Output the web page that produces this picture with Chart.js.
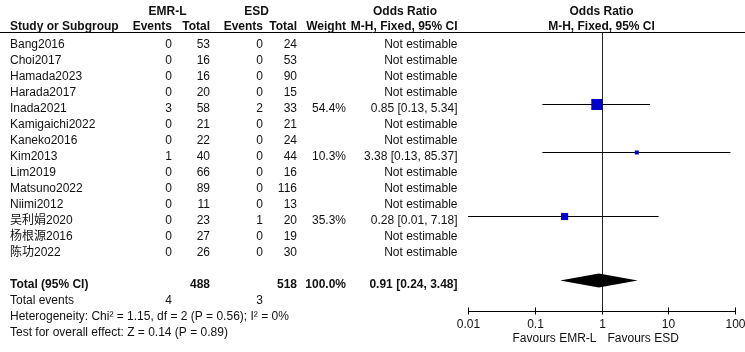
<!DOCTYPE html>
<html><head><meta charset="utf-8">
<script src="https://cdn.jsdelivr.net/npm/chart.js@4"></script>
<style>html,body{margin:0;padding:0;background:#fff}#wrap{width:745px;height:352px;position:relative}</style>
</head><body><div id="wrap"><canvas id="c" width="745" height="352"></canvas></div>
<script>
const studies = ['Bang2016','Choi2017','Hamada2023','Harada2017','Inada2021','Kamigaichi2022','Kaneko2016','Kim2013','Lim2019','Matsuno2022','Niimi2012','吴利娟2020','杨根源2016','陈功2022'];
const emrEvents = [0,0,0,0,3,0,0,1,0,0,0,0,0,0];
const emrTotal  = [53,16,16,20,58,21,22,40,66,89,11,23,27,26];
const esdEvents = [0,0,0,0,2,0,0,0,0,0,0,1,0,0];
const esdTotal  = [24,53,90,15,33,21,24,44,16,116,13,20,19,30];
const weights   = [null,null,null,null,54.4,null,null,10.3,null,null,null,35.3,null,null];
const orEst     = [null,null,null,null,0.85,null,null,3.38,null,null,null,0.28,null,null];
const orLow     = [null,null,null,null,0.13,null,null,0.13,null,null,null,0.01,null,null];
const orHigh    = [null,null,null,null,5.34,null,null,85.37,null,null,null,7.18,null,null];
const totalLabel = 'Total (95% CI)';
const totalEmrN = 488, totalEsdN = 518, totalWeight = '100.0%';
const totalOR = 0.91, totalLow = 0.24, totalHigh = 3.48;
const totalEmrEvents = 4, totalEsdEvents = 3;
const axisTicks = [0.01,0.1,1,10,100];
const axisTickLabels = ['0.01','0.1','1','10','100'];
const heterogeneityText = 'Heterogeneity: Chi² = 1.15, df = 2 (P = 0.56); I² = 0%';
const overallText = 'Test for overall effect: Z = 0.14 (P = 0.89)';
const favoursLeft = 'Favours EMR-L', favoursRight = 'Favours ESD';

const FONT = '"Liberation Sans", Arial, "Noto Sans CJK SC", sans-serif';
const REG = '12px ' + FONT, BOLD = 'bold 12px ' + FONT;
const TOTAL_ROW = studies.length + 1;

const idx = studies.map((_, i) => i).filter(i => orEst[i] !== null);
const datasets = [{
  type: 'scatter',
  data: idx.map(i => ({x: orEst[i], y: i, w: weights[i]})),
  pointStyle: 'rect',
  backgroundColor: '#0000CC',
  borderColor: '#0000CC',
  borderWidth: 0,
  pointRadius: ctx => { const w = ctx.raw ? ctx.raw.w : 10; const side = Math.max(4, 11 * w / 54.4); return side / Math.SQRT2; },
  pointHoverRadius: ctx => { const w = ctx.raw ? ctx.raw.w : 10; const side = Math.max(4, 11 * w / 54.4); return side / Math.SQRT2; }
}];
idx.forEach(i => datasets.push({
  type: 'line',
  data: [{x: orLow[i], y: i}, {x: orHigh[i], y: i}],
  borderColor: '#000', borderWidth: 1, pointRadius: 0, fill: false
}));

function fmt(v){ return v.toFixed(2); }

const forestPlugin = {
  id: 'forest',
  beforeDatasetsDraw(chart) {
    const {ctx, scales: {x, y}} = chart;
    ctx.save();
    ctx.strokeStyle = '#000'; ctx.lineWidth = 1;
    // header rule
    ctx.beginPath(); ctx.moveTo(0, 32.5); ctx.lineTo(745, 32.5); ctx.stroke();
    const ay = Math.round(chart.chartArea.bottom) - 0.5;
    // null line
    const x1 = Math.round(x.getPixelForValue(1)) + 0.5;
    ctx.strokeStyle = '#222';
    ctx.beginPath(); ctx.moveTo(x1, 33); ctx.lineTo(x1, ay); ctx.stroke();
    // axis
    ctx.strokeStyle = '#000';
    const xa = Math.round(x.getPixelForValue(axisTicks[0])), xb = Math.round(x.getPixelForValue(axisTicks[axisTicks.length-1]));
    ctx.beginPath(); ctx.moveTo(xa, ay); ctx.lineTo(xb + 1, ay); ctx.stroke();
    ctx.font = REG; ctx.fillStyle = '#111'; ctx.textAlign = 'center'; ctx.textBaseline = 'alphabetic';
    axisTicks.forEach((t, k) => {
      const px = Math.round(x.getPixelForValue(t)) + 0.5;
      ctx.beginPath(); ctx.moveTo(px, ay - 4); ctx.lineTo(px, ay + 3); ctx.stroke();
      ctx.fillText(axisTickLabels[k], px, ay + 16);
    });
    ctx.textAlign = 'right'; ctx.fillText(favoursLeft, x1 - 6, ay + 30);
    ctx.textAlign = 'left'; ctx.fillText(favoursRight, x1 + 5, ay + 30);
    ctx.restore();
  },
  afterDatasetsDraw(chart) {
    const {ctx, scales: {x, y}} = chart;
    ctx.save();
    ctx.fillStyle = '#111'; ctx.textBaseline = 'alphabetic';
    // diamond
    const yc = y.getPixelForValue(TOTAL_ROW);
    ctx.fillStyle = '#000';
    ctx.beginPath();
    ctx.moveTo(x.getPixelForValue(totalLow), yc);
    ctx.lineTo(x.getPixelForValue(totalOR), yc - 7);
    ctx.lineTo(x.getPixelForValue(totalHigh), yc);
    ctx.lineTo(x.getPixelForValue(totalOR), yc + 7);
    ctx.closePath(); ctx.fill();
    ctx.fillStyle = '#111';
    const t = (s, px, py, al, f) => { ctx.font = f || REG; ctx.textAlign = al; ctx.fillText(s, px, py); };
    // headers
    t('EMR-L', 167.5, 15, 'center', BOLD);
    t('ESD', 256.5, 15, 'center', BOLD);
    t('Odds Ratio', 405, 15, 'center', BOLD);
    t('Odds Ratio', 601.5, 15, 'center', BOLD);
    t('Study or Subgroup', 10, 30, 'left', BOLD);
    t('Events', 172, 30, 'right', BOLD);
    t('Total', 210, 30, 'right', BOLD);
    t('Events', 263, 30, 'right', BOLD);
    t('Total', 297, 30, 'right', BOLD);
    t('Weight', 346, 30, 'right', BOLD);
    t('M-H, Fixed, 95% CI', 457.5, 30, 'right', BOLD);
    t('M-H, Fixed, 95% CI', 601.5, 30, 'center', BOLD);
    studies.forEach((s, i) => {
      const by = y.getPixelForValue(i) + 7;
      t(s, 10, by, 'left');
      t(String(emrEvents[i]), 172, by, 'right');
      t(String(emrTotal[i]), 210, by, 'right');
      t(String(esdEvents[i]), 263, by, 'right');
      t(String(esdTotal[i]), 297, by, 'right');
      if (weights[i] !== null) t(weights[i].toFixed(1) + '%', 346, by, 'right');
      t(orEst[i] === null ? 'Not estimable' : `${fmt(orEst[i])} [${fmt(orLow[i])}, ${fmt(orHigh[i])}]`, 457.5, by, 'right');
    });
    const tb = y.getPixelForValue(TOTAL_ROW) + 7;
    t(totalLabel, 10, tb, 'left', BOLD);
    t(String(totalEmrN), 210, tb, 'right', BOLD);
    t(String(totalEsdN), 297, tb, 'right', BOLD);
    t(totalWeight, 346, tb, 'right', BOLD);
    t(`${fmt(totalOR)} [${fmt(totalLow)}, ${fmt(totalHigh)}]`, 457.5, tb, 'right', BOLD);
    const eb = y.getPixelForValue(TOTAL_ROW + 1) + 7;
    t('Total events', 10, eb, 'left');
    t(String(totalEmrEvents), 172, eb, 'right');
    t(String(totalEsdEvents), 263, eb, 'right');
    t(heterogeneityText, 10, y.getPixelForValue(TOTAL_ROW + 2) + 7, 'left');
    t(overallText, 10, y.getPixelForValue(TOTAL_ROW + 3) + 7, 'left');
    ctx.restore();
  }
};

new Chart(document.getElementById('c'), {
  data: { datasets },
  options: {
    responsive: false, animation: false, devicePixelRatio: 1,
    layout: { padding: { left: 468, right: 10, top: 32, bottom: 40 } },
    plugins: { legend: { display: false }, tooltip: { enabled: false } },
    scales: {
      x: { type: 'logarithmic', min: 0.01, max: 100, display: false },
      y: { type: 'linear', reverse: true, min: -0.53125, max: 16.96875, display: false }
    }
  },
  plugins: [forestPlugin]
});
</script>
</body></html>
